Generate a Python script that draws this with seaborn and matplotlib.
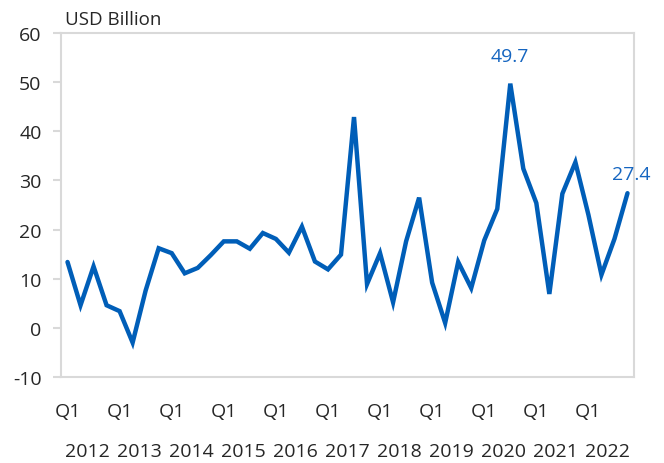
import matplotlib
matplotlib.use("Agg")
import matplotlib.pyplot as plt
import matplotlib.transforms as mtransforms
import seaborn as sns
import pandas as pd

years = [str(y) for y in range(2012, 2023)]
quarters = ["Q1", "Q2", "Q3", "Q4"]
values = [13.4, 4.6, 12.5, 4.6, 3.4, -3.0, 7.6, 16.2, 15.2, 11.1,
          12.2, 14.8, 17.6, 17.6, 16.1, 19.3, 18.1, 15.3, 20.6, 13.5,
          11.9, 14.9, 42.9, 8.9, 15.2, 5.2, 17.6, 26.5, 9.2, 1.0,
          13.4, 8.1, 17.8, 24.2, 49.7, 32.4, 25.4, 6.9, 27.3, 33.7,
          23.0, 10.8, 18.1, 27.4]
y_ticks = [-10, 0, 10, 20, 30, 40, 50, 60]
unit_label = "USD Billion"
annotated = {34: "49.7", 43: "27.4"}

periods = [f"{y} {q}" for y in years for q in quarters][:len(values)]
df = pd.DataFrame({"period": periods, "pos": range(len(values)), "value": values})

sns.set_theme(style="white")
plt.rcParams["font.family"] = ["Open Sans", "DejaVu Sans"]

LINE = "#005EB8"
LABEL = "#1565C0"
GRID = "#D9D9D9"
TXT = "#262626"
FS = 14

fig = plt.figure(figsize=(6.64, 4.64), dpi=100)
ax = fig.add_axes([61/664, 1 - 378/464, (634 - 61)/664, (378 - 34)/464])

sns.lineplot(data=df, x="pos", y="value", ax=ax, color=LINE, linewidth=3.2,
             solid_joinstyle="miter")

ax.set_xlim(-0.5, len(values) - 0.5)
ax.set_ylim(-10, 60)
ax.set_yticks(y_ticks)
ax.set_yticklabels([str(v) for v in y_ticks])
ax.tick_params(axis="y", length=6, width=1.5, color=GRID, pad=8,
               labelsize=FS, labelcolor=TXT, left=True)

q1_pos = [i for i, p in enumerate(periods) if p.endswith("Q1")]
ax.set_xticks(q1_pos)
ax.set_xticklabels(["Q1"] * len(q1_pos))
ax.tick_params(axis="x", length=0, pad=18, labelsize=FS, labelcolor=TXT)
ax.set_xlabel("")
ax.set_ylabel("")

trans = mtransforms.blended_transform_factory(ax.transData, ax.transAxes)
for i, yr in enumerate(years):
    ax.text(i * 4 + 1.5, -65 / 344, yr, transform=trans, ha="center", va="top",
            fontsize=FS, color=TXT)

for sp in ax.spines.values():
    sp.set_color(GRID)
    sp.set_linewidth(1.5)

fig.text(65 / 664, 1 - 20 / 464, unit_label, fontsize=13.5, color=TXT,
         ha="left", va="center")

for idx, lab in annotated.items():
    dx = 0 if idx != len(values) - 1 else 3
    dy = 20 if idx != len(values) - 1 else 14
    ax.annotate(lab, (idx, values[idx]), xytext=(dx, dy), textcoords="offset points",
                ha="center", va="center", fontsize=FS, color=LABEL,
                annotation_clip=False)

fig.savefig("out.png", dpi=100)
